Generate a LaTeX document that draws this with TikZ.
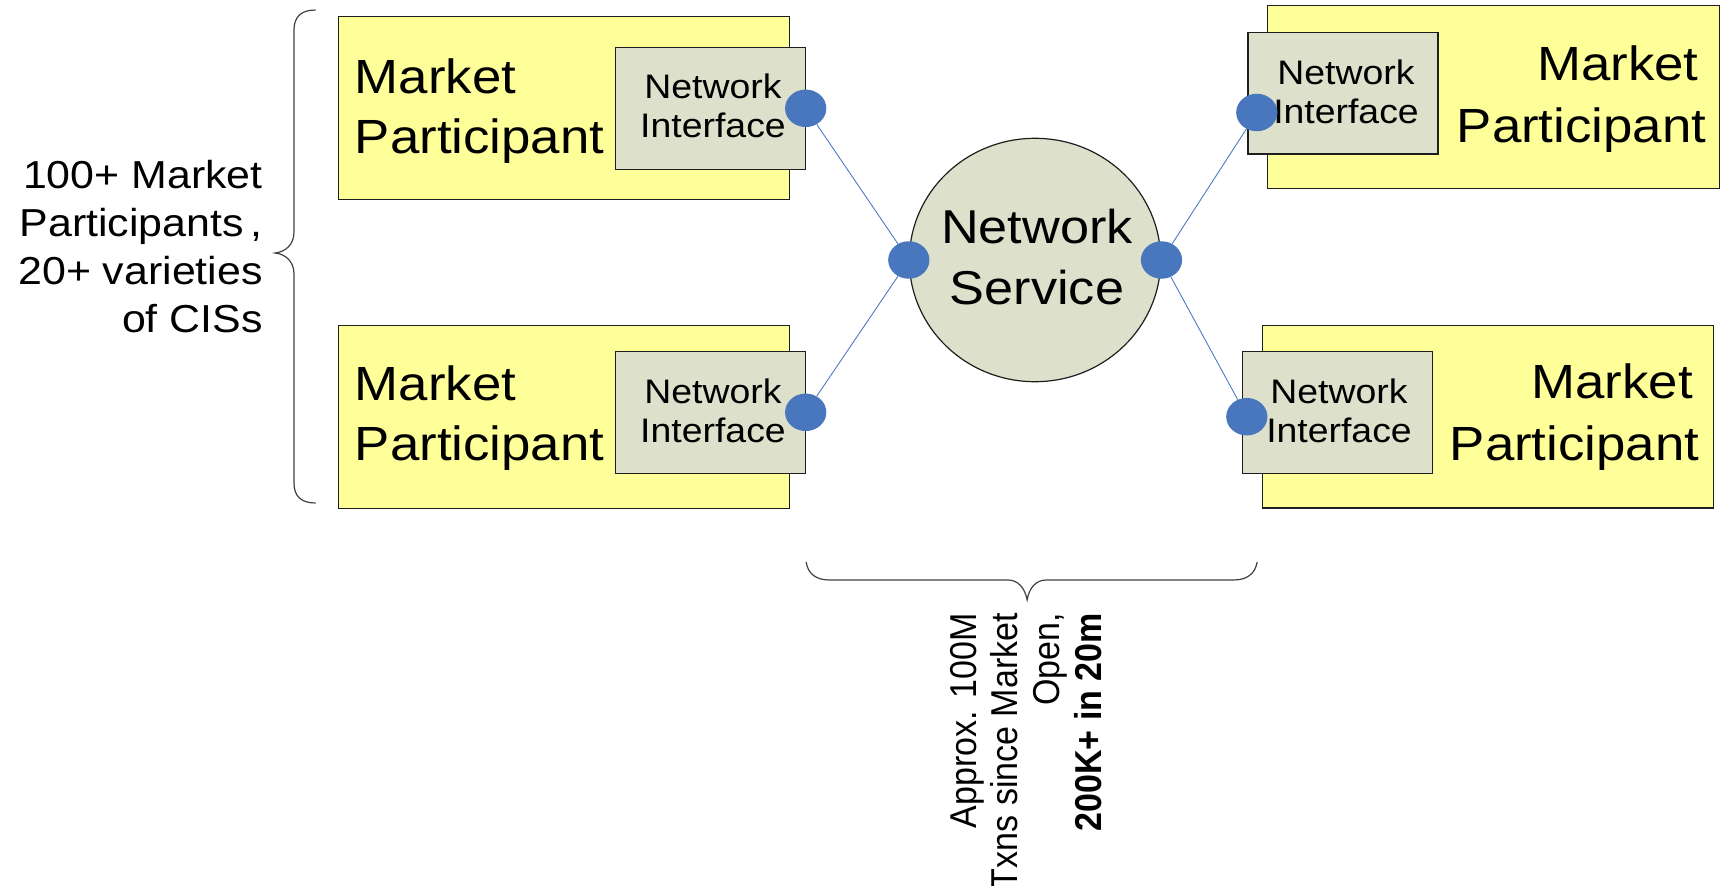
\documentclass[tikz,border=0pt]{standalone}
\usepackage{fontspec}
\setmainfont{Liberation Sans}
\usetikzlibrary{shapes.geometric}

\definecolor{mpyellow}{HTML}{FFFF99}
\definecolor{nifill}{HTML}{DDE0CA}
\definecolor{portblue}{HTML}{4877BE}
\definecolor{linkblue}{HTML}{4A7CC4}
\definecolor{bracegray}{HTML}{404040}
\definecolor{edgegray}{HTML}{1E1E1E}

\begin{document}
\begin{tikzpicture}[x=0.909091pt, y=-1pt, xscale=1.1, transform shape,
  mpbox/.style={rectangle, draw=edgegray, line width=1.3pt, fill=mpyellow,
    inner sep=0pt, minimum width=410.5pt, minimum height=182.5pt},
  nibox/.style={rectangle, draw=edgegray, line width=1.3pt, fill=nifill,
    inner sep=0pt, minimum width=172.7pt, minimum height=121.8pt},
  svc/.style={ellipse, draw=edgegray, line width=1.2pt, fill=nifill,
    inner sep=0pt, minimum width=228.5pt, minimum height=243.4pt},
  port/.style={circle, fill=portblue, inner sep=0pt, minimum size=37.5pt},
  link/.style={draw=linkblue, line width=0.9pt},
  brace/.style={draw=bracegray, line width=1.2pt},
  mptext/.style={inner sep=0pt, font=\fontsize{48}{60}\selectfont},
  mptextr/.style={inner sep=0pt, align=right, anchor=east, font=\fontsize{48}{62}\selectfont},
  nitext/.style={inner sep=0pt, align=center, font=\fontsize{34}{39}\selectfont},
  note/.style={inner sep=0pt, font=\fontsize{39}{48}\selectfont},
]
\useasboundingbox (0,0) rectangle (1727,886);

% market participant boxes
\node[mpbox] (mpTL) at (564,108) {};
\node[mpbox] (mpBL) at (564,416.9) {};
\node[mpbox] (mpTR) at (1493.5,97) {};
\node[mpbox] (mpBR) at (1488,416.8) {};

\node[mptext, anchor=west, align=left] (mpTLt) at (354.7,111) {Market\\Participant};
\node[mptext, anchor=west, align=left] (mpBLt) at (354.7,417.8) {Market\\Participant};
\node[mptextr] (mpTRt) at (1706.5,98.8) {Market\kern7pt\\Participant};
\node[mptextr] (mpBRt) at (1699.5,417) {Market\kern6pt\\Participant};

% network interface boxes
\node[nibox] (niTL) at (710.7,108.3) {};
\node[nibox] (niBL) at (710.7,412.5) {};
\node[nibox] (niTR) at (1343,93.2) {};
\node[nibox] (niBR) at (1337.2,412.5) {};

\node[nitext] (niTLt) at (713,106.2) {Network\\Interface};
\node[nitext] (niBLt) at (713,411.2) {Network\\Interface};
\node[nitext] (niTRt) at (1346,91.5) {Network\\Interface};
\node[nitext] (niBRt) at (1339,410.5) {Network\\Interface};

% central network service
\node[svc] (ns) at (1035,260) {};
\node[inner sep=0pt, align=center, font=\fontsize{47.5}{61}\selectfont] (nst) at (1037,257.4) {Network\\Service};

% connection ports
\node[port] (pTL) at (805.7,108.3) {};
\node[port] (pBL) at (805.7,412.3) {};
\node[port] (pTR) at (1256.8,112.5) {};
\node[port] (pBR) at (1246.8,416.7) {};
\node[port] (nsL) at (ns.west) {};
\node[port] (nsR) at (ns.east) {};

% links between interfaces and the service
\draw[link] (pTL) -- (nsL);
\draw[link] (pBL) -- (nsL);
\draw[link] (pTR) -- (nsR);
\draw[link] (pBR) -- (nsR);

% left brace and its note
\coordinate (lbTop) at (315.5,10);
\coordinate (lbTip) at (275,253);
\coordinate (lbBot) at (315.5,503);
\draw[brace] (lbTop) .. controls (302,10) and (294,16) .. (294,30)
  -- (294,232) .. controls (294,245) and (285,252) .. (lbTip)
  .. controls (285,254) and (294,261) .. (294,274)
  -- (294,483) .. controls (294,497) and (302,503) .. (lbBot);
\node[note, anchor=east, align=right] (mpcount) at (263,246.1)
  {100+ Market\\{\spaceskip=6.5pt Participants ,}\\20+ varieties\\of CISs};

% bottom brace and its note
\coordinate (bbL) at (806,562);
\coordinate (bbTip) at (1027,600);
\coordinate (bbR) at (1257,562);
\draw[brace] (bbL) .. controls (808,574) and (816,580) .. (830,580)
  -- (1008,580) .. controls (1018,580) and (1025,588) .. (bbTip)
  .. controls (1029,588) and (1036,580) .. (1046,580)
  -- (1233,580) .. controls (1247,580) and (1255,574) .. (bbR);
\node[rotate=90, anchor=east, align=right, inner sep=0pt,
  font=\fontsize{34}{38}\selectfont] (txns) at (1025.9,613)
  {Approx. 100M\\Txns since Market\\Open,\\\textbf{200K+ in 20m}};
\end{tikzpicture}
\end{document}
